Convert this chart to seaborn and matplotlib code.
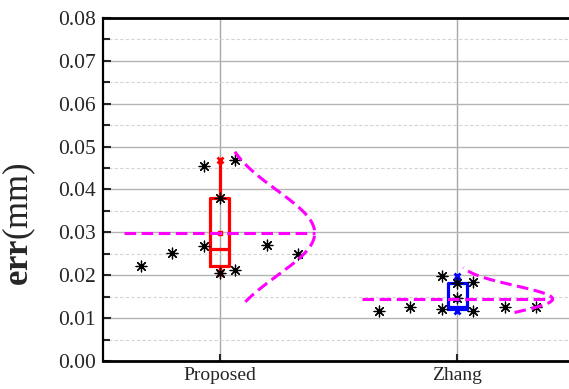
import numpy as np
import pandas as pd
import matplotlib
matplotlib.use("Agg")
import matplotlib.pyplot as plt
from matplotlib.ticker import MultipleLocator, FormatStrFormatter
import seaborn as sns

# data
categories = ["Proposed", "Zhang"]
proposed_err = [0.0222, 0.0252, 0.0268, 0.0455, 0.0380, 0.0205, 0.0469, 0.0212, 0.0271, 0.0249]
zhang_err = [0.0117, 0.0127, 0.0198, 0.0121, 0.0181, 0.0146, 0.0184, 0.0117, 0.0127, 0.0127]
jitter = [-0.33, -0.2, -0.067, -0.067, 0, 0, 0.067, 0.067, 0.2, 0.33]
curve_lo = [0.0138, 0.0113]
curve_hi = [0.0488, 0.0218]
box_colors = ["#ff0000", "#0000ff"]

groups = [proposed_err, zhang_err]

sns.set_style("white")
plt.rcParams["font.family"] = ["Liberation Serif", "DejaVu Serif"]
plt.rcParams["mathtext.fontset"] = "custom"
plt.rcParams["mathtext.rm"] = "Liberation Serif"
plt.rcParams["mathtext.bf"] = "Liberation Serif:bold"

fig = plt.figure(figsize=(5.69, 3.89), dpi=100)
ax = fig.add_axes([0.181, 0.072, 0.832, 0.882])

# grid
ax.yaxis.set_major_locator(MultipleLocator(0.01))
ax.yaxis.set_minor_locator(MultipleLocator(0.005))
ax.grid(axis="y", which="major", color="#b4b4b4", lw=1.0)
ax.grid(axis="y", which="minor", color="#d4d4d4", lw=0.8, ls=(0, (3, 2)))
ax.grid(axis="x", which="major", color="#a8a8a8", lw=1.0)
ax.set_axisbelow(True)

dash = (0, (3.8, 1.8))

# scatter points
df = pd.DataFrame({
    "x": [i + j for i in range(len(categories)) for j in jitter],
    "err": proposed_err + zhang_err,
})
sns.scatterplot(data=df, x="x", y="err", marker=(8, 2, 0), s=60,
                color="black", edgecolor="black", linewidth=0.9, ax=ax, zorder=4)

# box plots (quartiles as Origin computes them)
for i, vals in enumerate(groups):
    v = np.array(vals)
    stats = [{
        "q1": np.percentile(v, 25, method="inverted_cdf"),
        "q3": np.percentile(v, 75, method="inverted_cdf"),
        "med": np.median(v),
        "mean": v.mean(),
        "whislo": v.min(),
        "whishi": v.max(),
        "fliers": [],
    }]
    c = box_colors[i]
    ax.bxp(stats, positions=[i], widths=0.08, showmeans=True, showcaps=False,
           boxprops=dict(color=c, lw=2.3),
           whiskerprops=dict(color=c, lw=2.3),
           medianprops=dict(color=c, lw=2.3),
           meanprops=dict(marker="s", markersize=3.5, markerfacecolor="white",
                          markeredgecolor=c, markeredgewidth=1.0),
           manage_ticks=False, zorder=3)
    ax.plot([i, i], [v.min(), v.max()], ls="none", marker="x", ms=4,
            mew=2.0, color=c, zorder=3)

    # normal distribution curve, drawn sideways
    mu, sd = v.mean(), v.std(ddof=1)
    yy = np.linspace(curve_lo[i], curve_hi[i], 200)
    xx = i + 0.4 * np.exp(-0.5 * ((yy - mu) / sd) ** 2)
    sns.lineplot(x=xx, y=yy, sort=False, estimator=None, color="#ff00ff",
                 lw=2.2, ax=ax, zorder=5).lines[-1].set_linestyle(dash)
    ax.plot([i - 0.4, i + 0.4], [mu, mu], color="#ff00ff", lw=2.2,
            ls=dash, zorder=5)

ax.set_xlim(-0.49, 1.5)
ax.set_ylim(0, 0.08)
ax.set_xticks(range(len(categories)))
ax.set_xticklabels(categories, fontsize=14)
ax.yaxis.set_major_formatter(FormatStrFormatter("%.2f"))
ax.tick_params(axis="y", which="major", direction="in", length=6, width=1.5,
               labelsize=15.5, pad=5, left=True)
ax.tick_params(axis="y", which="minor", direction="in", length=5, width=1.5, left=True)
ax.tick_params(axis="x", direction="in", length=5, width=1.5, pad=4, bottom=True)

for side in ["left", "bottom", "top", "right"]:
    ax.spines[side].set_visible(True)
    ax.spines[side].set_color("black")
ax.spines["left"].set_linewidth(1.6)
ax.spines["bottom"].set_linewidth(2.0)
ax.spines["top"].set_linewidth(2.0)

ax.set_xlabel("")
ax.set_ylabel(r"$\mathbf{err}$(mm)", fontsize=25)
ax.yaxis.set_label_coords(-0.137, 0.40)

fig.savefig("out.png", dpi=100)
